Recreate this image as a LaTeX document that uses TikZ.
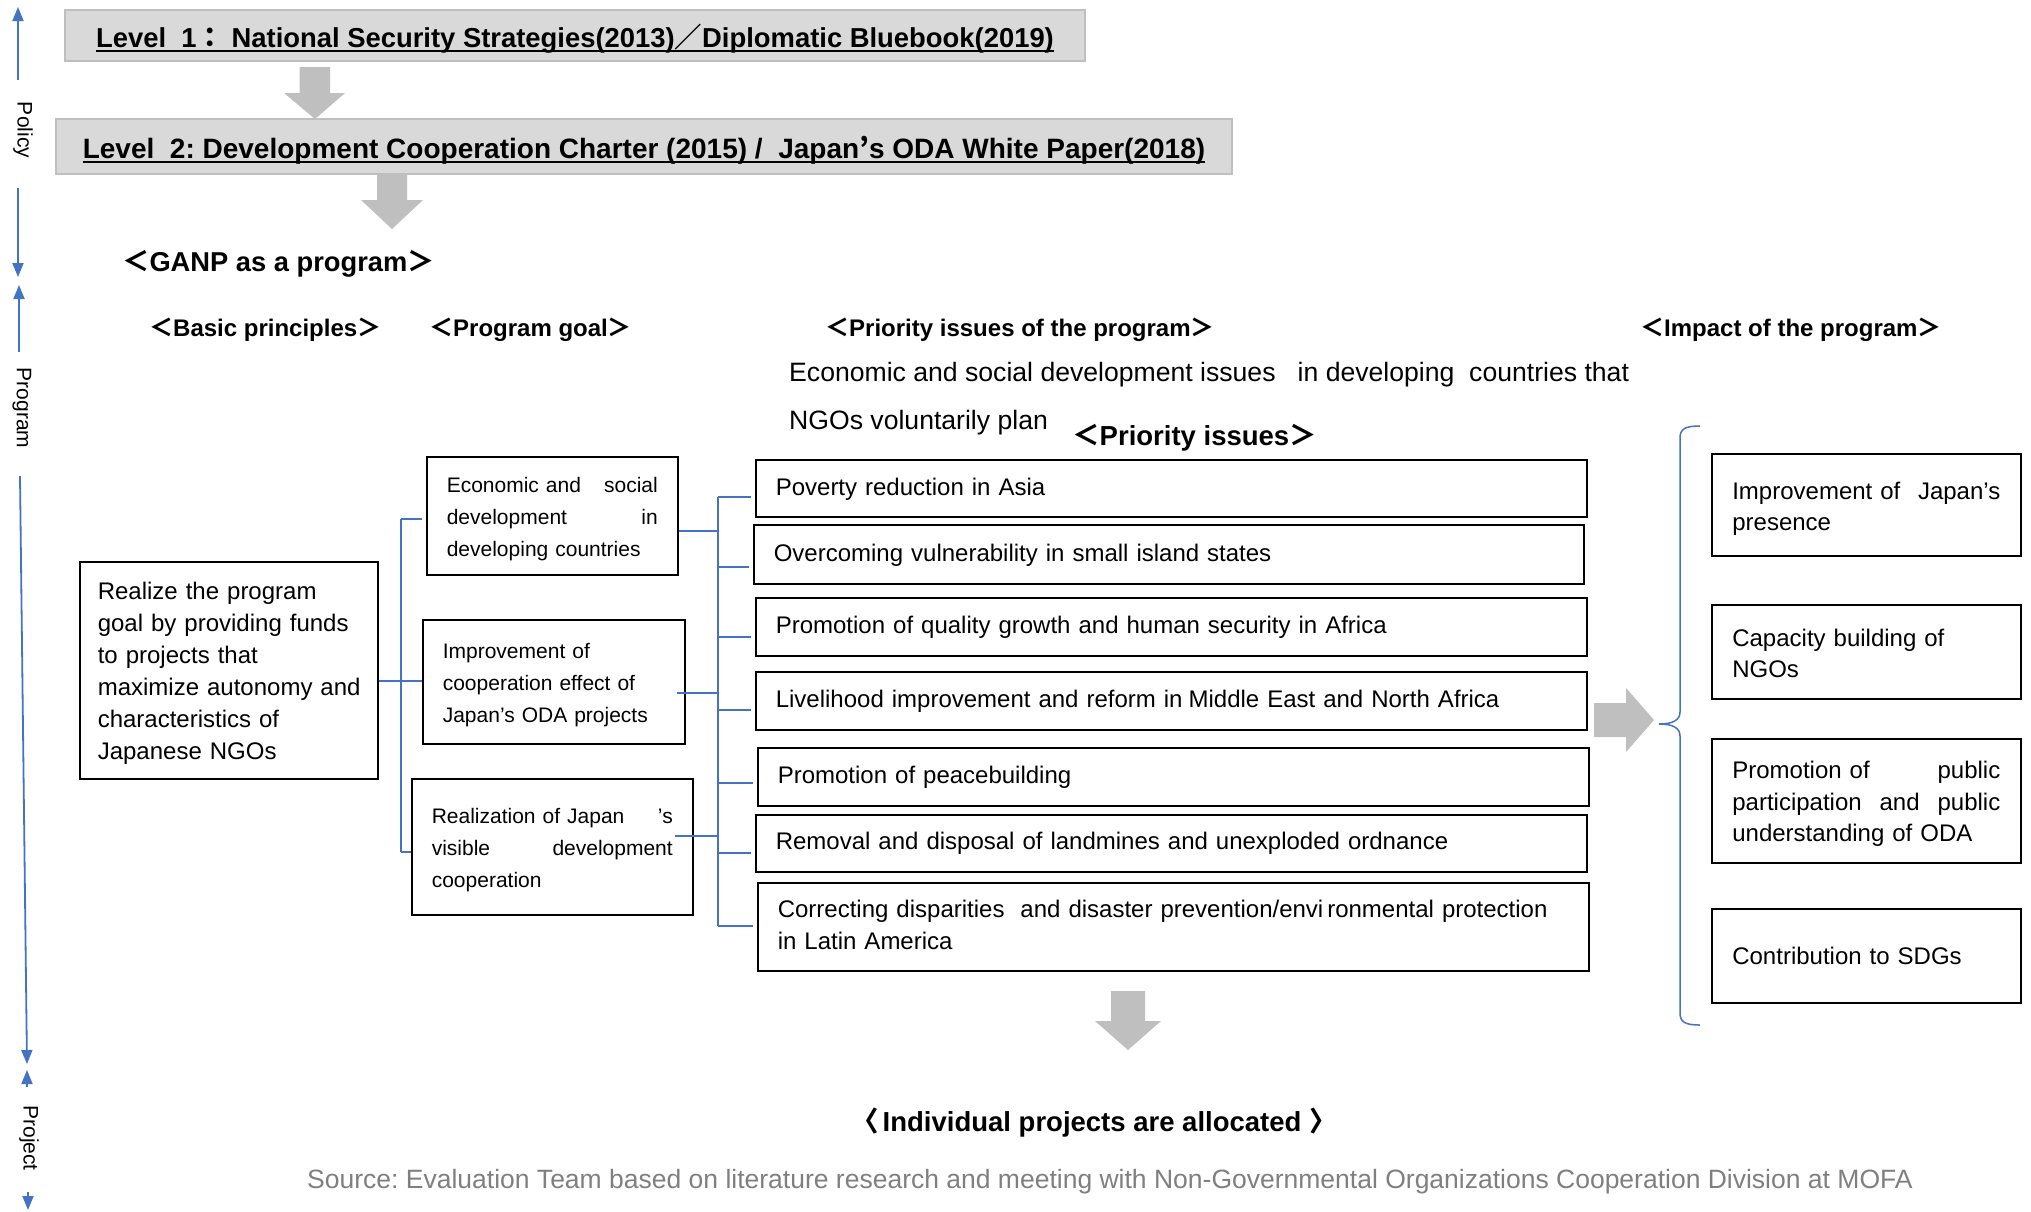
\documentclass[tikz,border=0pt]{standalone}
\usepackage{fontspec}
\setmainfont{Liberation Sans}
\newfontfamily\cjk{Noto Sans CJK JP}
\usetikzlibrary{arrows.meta}
\frenchspacing
\definecolor{gfill}{HTML}{D9D9D9}
\definecolor{gline}{HTML}{BFBFBF}
\definecolor{garrow}{HTML}{BFBFBF}
\definecolor{blu}{HTML}{4472C4}
\definecolor{srcgray}{HTML}{7F7F7F}
\newsavebox\ulbox
\newcommand\myul[1]{\sbox\ulbox{#1}\rlap{\rule[-5pt]{\wd\ulbox}{2pt}}\usebox\ulbox}
\newcommand\fs[2]{\fontsize{#1}{#2}\selectfont}
\newcommand\myLB{{\cjk ＜}}
\newcommand\myRB{{\cjk ＞}}
\newcommand\lowerby{0pt}
\begin{document}
\begin{tikzpicture}[x=1pt,y=-1pt,
  bx/.style={draw=black, line width=1.6pt, inner ysep=0pt, inner xsep=20pt, align=left, anchor=north west, font=\fs{24}{32},
    execute at begin node={\rule{0pt}{\dimexpr.7\baselineskip+\lowerby\relax}}, execute at end node=\strut},
  lower/.code={\def\lowerby{#1}},
  gbox/.style={draw=gline, fill=gfill, line width=2.5pt, inner sep=0pt, text height=29pt, text depth=6pt},
  bl/.style={draw=blu, line width=1.5pt},
  ax/.style={draw=blu, line width=1.8pt, -{Triangle[length=14pt,width=11pt]}},
  garr/.style={fill=garrow, draw=none},
  lbl/.style={inner sep=0pt, anchor=west},
  hdr/.style={lbl, font=\bfseries\fs{24}{24}},
  axl/.style={rotate=-90, inner sep=0pt, font=\fs{21}{21}}]
\useasboundingbox (0,0) rectangle (2031,1211);

% ---- policy level boxes
\node[gbox, minimum width=1020pt, minimum height=51pt, font=\bfseries\fs{27.4}{27.4}] (lv1) at (575,35.5)
  {\myul{Level\ \ 1{\cjk ：}\ National Security Strategies(2013){\cjk ／}Diplomatic Bluebook(2019)}};
\node[gbox, minimum width=1176pt, minimum height=55pt, font=\bfseries\fs{28}{28}] (lv2) at (644,146.5)
  {\myul{Level\ \ 2: Development Cooperation Charter (2015) /\ \ Japan{\cjk ’}s ODA White Paper(2018)}};

% ---- gray block arrows
\fill[garr] (299.5,67) -- (330,67) -- (330,93) -- (345,93) -- (315,119) -- (284,93) -- (299.5,93) -- cycle;
\fill[garr] (377,174) -- (407,174) -- (407,200) -- (423,200) -- (392,229) -- (361,200) -- (377,200) -- cycle;
\fill[garr] (1111,991) -- (1145,991) -- (1145,1021) -- (1161,1021) -- (1128,1050) -- (1095,1021) -- (1111,1021) -- cycle;
\fill[garr] (1594,703) -- (1626,703) -- (1626,688) -- (1654,720) -- (1626,752) -- (1626,737) -- (1594,737) -- cycle;

% ---- headings
\node[lbl, font=\bfseries\fs{27.3}{27.3}] (ganp) at (122,263.5) {\myLB GANP as a program\myRB};
\node[hdr] (hbp) at (149,329.5) {\myLB Basic principles\myRB};
\node[hdr] (hpg) at (429,329.5) {\myLB Program goal\myRB};
\node[hdr] (hpi) at (825,329.5) {\myLB Priority issues of the program\myRB};
\node[hdr] (him) at (1640,329.5) {\myLB Impact of the program\myRB};
\node[lbl, font=\fs{26.6}{26.6}] (econ) at (789,374.5) {Economic and social development issues\ \ \ in developing\ \ countries that};
\node[lbl, font=\fs{26.6}{26.6}] (ngos) at (789,422.5) {NGOs voluntarily plan};
\node[lbl, font=\bfseries\fs{27.5}{27.5}] (pih) at (1072,437.5) {\myLB Priority issues\myRB};

% ---- basic principle box
\node[bx, lower=5pt, text width=262pt, inner xsep=18pt, minimum height=217pt] (L) at (79,561)
  {Realize the program\\goal by providing funds\\to projects that\\\mbox{maximize autonomy and}\\characteristics of\\Japanese NGOs};

% ---- program goal boxes
\node[bx, lower=5pt, font=\fs{21}{32}, text width=211pt, minimum height=118pt] (A) at (426,456)
  {Economic and\hfill social\\development\hfill in\\developing countries};
\node[bx, lower=5pt, font=\fs{21}{32}, text width=222pt, minimum height=124pt] (B) at (422,619)
  {Improvement of\\cooperation effect of\\Japan’s ODA projects};
\node[bx, lower=5pt, font=\fs{21}{32}, text width=241pt, minimum height=136pt] (C) at (411,778)
  {Realization of Japan\hfill ’s\\visible\hfill development\\cooperation};

% ---- priority issue boxes
\node[bx, lower=2pt, text width=791pt, minimum height=57pt] (P1) at (755,459) {Poverty reduction in Asia};
\node[bx, lower=2pt, text width=790pt, minimum height=59pt] (P2) at (753,524) {Overcoming vulnerability in small island states};
\node[bx, text width=791pt, minimum height=58pt] (P3) at (755,597) {Promotion of quality growth and human security in Africa};
\node[bx, text width=791pt, minimum height=58pt] (P4) at (755,671) {Livelihood improvement and reform in\hspace{-2pt} Middle East and North Africa};
\node[bx, text width=791pt, minimum height=58pt] (P5) at (757,747) {Promotion of peacebuilding};
\node[bx, text width=791pt, minimum height=57pt] (P6) at (755,814) {Removal and disposal of landmines and unexploded ordnance};
\node[bx, text width=791pt, minimum height=88pt] (P7) at (757,882)
  {Correcting disparities\ \ and disaster prevention/envi\,ronmental protection\\in Latin America};

% ---- impact boxes
\node[bx, lower=8pt, font=\fs{24}{31.5}, inner xsep=20.5pt, text width=268pt, minimum height=102pt] (I1) at (1711,453)
  {Improvement of\hfill Japan’s\\presence};
\node[bx, lower=8pt, font=\fs{24}{31.5}, inner xsep=20.5pt, text width=268pt, minimum height=94pt] (I2) at (1711,604)
  {Capacity building of\\NGOs};
\node[bx, lower=6pt, font=\fs{24}{31.5}, inner xsep=20.5pt, text width=268pt, minimum height=124pt] (I3) at (1711,738)
  {Promotion of\hfill public\\participation\hfill and\hfill public\\understanding of ODA};
\node[bx, lower=4pt, font=\fs{24}{31.5}, inner xsep=20.5pt, text width=268pt, minimum height=94pt] (I4) at (1711,908)
  {Contribution to SDGs};

% ---- bottom texts
\node[lbl, font=\bfseries\fs{27.5}{27.5}] (indiv) at (851,1122.5)
  {{\cjk 〈}\kern4pt Individual projects are allocated\kern8pt{\cjk 〉}};
\node[inner sep=0pt, font=\fs{26.5}{26.5}, text=srcgray] (src) at (1110,1181.5)
  {Source: Evaluation Team based on literature research and meeting with Non-Governmental Organizations Cooperation Division at MOFA};

% ---- connectors: principle -> goals
\coordinate (b1t) at (401,519);
\coordinate (b1b) at (401,852);
\draw[bl] (b1t) -- (b1b);
\draw[bl] (b1t) -- ([xshift=-4pt]A.west |- b1t);
\draw[bl] (L.east |- 0,681) -- (B.west |- 0,681);
\draw[bl] (b1b) -- (C.west |- b1b);

% ---- connectors: goals -> priority issues
\coordinate (b2t) at (718,497);
\coordinate (b2b) at (718,926);
\draw[bl] (b2t) -- (b2b);
\draw[bl] (A.east |- 0,531) -- (b2t |- 0,531);
\draw[bl] ([xshift=-9pt]B.east |- 0,693) -- (b2t |- 0,693);
\draw[bl] ([xshift=-19pt]C.east |- 0,836) -- (b2t |- 0,836);
\foreach \n/\yy in {P1/497,P2/567,P3/637,P4/710,P5/783,P6/853,P7/926}
  \draw[bl] (b2t |- 0,\yy) -- ([xshift=-4pt]\n.west |- 0,\yy);

% ---- brace
\draw[bl] (1700,426) .. controls (1685,426) and (1680,429) .. (1680,438) -- (1680,712)
  .. controls (1680,720) and (1673,724) .. (1659,724)
  .. controls (1673,724) and (1680,728) .. (1680,736) -- (1680,1013)
  .. controls (1680,1022) and (1685,1025) .. (1700,1025);

% ---- left axis
\node[axl] (pol) at (23,130) {Policy};
\node[axl] (prg) at (22,408) {Program};
\node[axl] (prj) at (29,1138) {Project};
\coordinate (a1s) at (18,80);   \coordinate (a1e) at (18,7);
\coordinate (a2s) at (18,188);  \coordinate (a2e) at (18,277);
\coordinate (a3s) at (19,352);  \coordinate (a3e) at (19,285);
\coordinate (a4s) at (20,476);  \coordinate (a4e) at (27,1064);
\coordinate (a5s) at (27,1087); \coordinate (a5e) at (27,1070);
\coordinate (a6s) at (28,1192); \coordinate (a6e) at (28,1210);
\draw[ax] (a1s) -- (a1e);
\draw[ax] (a2s) -- (a2e);
\draw[ax] (a3s) -- (a3e);
\draw[ax] (a4s) -- (a4e);
\draw[ax] (a5s) -- (a5e);
\draw[ax] (a6s) -- (a6e);
\end{tikzpicture}
\end{document}
